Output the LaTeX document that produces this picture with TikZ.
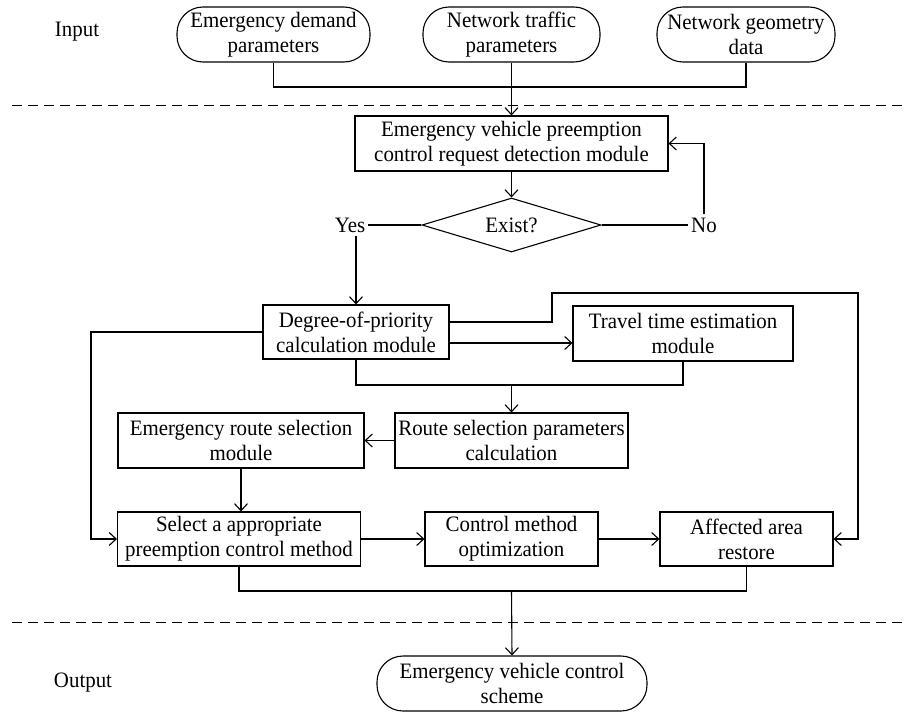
\documentclass[tikz,border=0pt]{standalone}
\usepackage{fontspec}
\setmainfont{Liberation Serif}[FakeStretch=0.95]
\usetikzlibrary{arrows.meta,shapes.geometric}
\newcommand\figfont{\fontsize{22}{25}\selectfont}
\tikzset{
  conn/.style={line width=1.1pt},
  arr/.style={conn, -{Straight Barb[length=7pt,width=13pt]}},
  box/.style={draw, line width=1.1pt, rectangle, inner sep=0pt, align=center, font=\figfont},
  term/.style={draw, line width=1.1pt, rectangle, rounded corners=26pt, inner sep=0pt, align=center, font=\figfont, minimum height=55pt},
  dia/.style={draw, line width=1.1pt, diamond, aspect=3.3, inner sep=0pt, minimum width=179pt, minimum height=54pt, font=\figfont},
  lbl/.style={inner sep=3pt, font=\figfont},
  dashline/.style={line width=1pt, dash pattern=on 10pt off 6pt}
}
\begin{document}
\begin{tikzpicture}[x=1pt,y=-1pt]
\useasboundingbox (0,0) rectangle (904,712);
% separators
\draw[dashline] (12,105) -- (904,105);
\draw[dashline] (12,622) -- (904,622);
% labels
\node[lbl] (input) at (77,32) {Input};
\node[lbl] (output) at (83,683) {Output};
% inputs
\node[term, minimum width=193pt] (in1) at (273.5,34.5) {Emergency demand\\parameters};
\node[term, minimum width=177pt] (in2) at (511.5,34.5) {Network traffic\\parameters};
\node[term, minimum width=178pt] (in3) at (746,34.5) {Network geometry\\data};
% main boxes
\node[box, minimum width=313pt, minimum height=55pt] (det) at (511.5,143.5) {Emergency vehicle preemption\\control request detection module};
\node[dia] (ex) at (511.5,225) {Exist?};
\node[lbl] (yes) at (350,225) {Yes};
\node[lbl] (no) at (704,225) {No};
\node[box, minimum width=186pt, minimum height=54pt] (deg) at (356,332) {Degree-of-priority\\calculation module};
\node[box, minimum width=220pt, minimum height=55pt] (trav) at (683,333.5) {Travel time estimation\\module};
\node[box, minimum width=233pt, minimum height=55pt] (rp) at (511.5,440.5) {Route selection parameters\\calculation};
\node[box, minimum width=246pt, minimum height=55pt] (ers) at (241,440.5) {Emergency route selection\\module};
\node[box, minimum width=243pt, minimum height=54pt] (sel) at (239,539) {Select a appropriate\\preemption control method};
\node[box, minimum width=173pt, minimum height=54pt] (ctrl) at (511.5,539) {Control method\\optimization};
\node[box, minimum width=173pt, minimum height=54pt] (aff) at (746.5,539) {Affected area\\restore};
\node[term, minimum width=270pt] (out) at (512,683.5) {Emergency vehicle control\\scheme};
% junction coordinates
\coordinate (m0) at (511.5,87);
\coordinate (m1) at (511.5,385);
\coordinate (m2) at (511.5,591);
\coordinate (c1) at (552,293);
\coordinate (c2) at (858,293);
\coordinate (c3) at (91,332);
% connectors
\draw[conn] (in1.south) |- (m0) -| (in3.south);
\draw[arr] (in2.south) -- (det.north);
\draw[arr] (det.south) -- (ex.north);
\draw[conn] (ex.west) -- (yes.east);
\draw[conn] (ex.east) -- (no.west);
\draw[arr] (no.north) |- (det.east);
\draw[arr] (yes.south -| deg.north) -- (deg.north);
\draw[arr] ([yshift=-11pt]deg.east) -- ([yshift=-11pt]deg.east -| trav.west);
\draw[arr] ([yshift=10pt]deg.east) -| (c1) -- (c2) |- (aff.east);
\draw[arr] (deg.west) -- (c3) |- (sel.west);
\draw[conn] (deg.south) |- (m1) -| (trav.south);
\draw[arr] (m1) -- (rp.north);
\draw[arr] (rp.west) -- (ers.east);
\draw[arr] (ers.south) -- (ers.south |- sel.north);
\draw[arr] (sel.east) -- (ctrl.west);
\draw[arr] (ctrl.east) -- (aff.west);
\draw[conn] (sel.south) |- (m2) -| (aff.south);
\draw[arr] (m2) -- (out.north);
\end{tikzpicture}
\end{document}
